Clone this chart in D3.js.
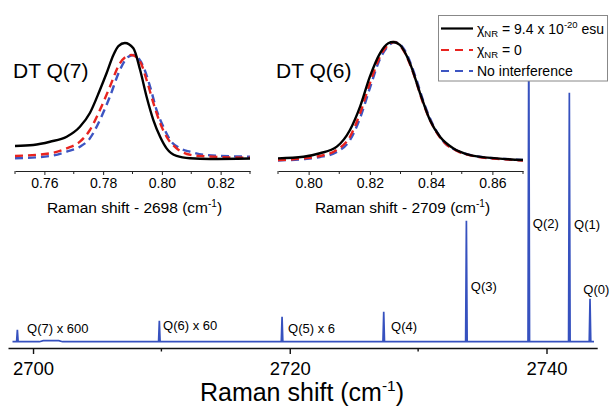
<!DOCTYPE html>
<html><head><meta charset="utf-8">
<script src="https://cdn.jsdelivr.net/npm/d3@7"></script>
<style>body{margin:0;background:#fff} svg{display:block;font-family:"Liberation Sans",Arial,sans-serif}</style>
</head><body><svg id="c" width="610" height="406"></svg>
<script>
// ---------- DATA ----------
const peakNames     = ["Q(0)","Q(1)","Q(2)","Q(3)","Q(4)","Q(5)","Q(6)","Q(7)"];
const peakLabels    = ["Q(0)","Q(1)","Q(2)","Q(3)","Q(4)","Q(5) x 6","Q(6) x 60","Q(7) x 600"];
const peakPositions = [2743.39, 2741.78, 2738.62, 2733.76, 2727.32, 2719.40, 2709.84, 2698.78];
const peakHeights   = [43, 249, 322, 121, 30, 25, 21, 12];
const mainMajorTicks = [2700, 2720, 2740];
const mainMinorTicks = [2710, 2730];
const spectrumStart = 2698.4, spectrumEnd = 2743.7;
const baselineBump = [[2700.5,0],[2700.8,1],[2702.0,1],[2702.3,0]];

// Inset Q(7): x = Raman shift - 2698 (cm-1), y normalised
const q7Black = [[0.750,0.112],[0.7562,0.121],[0.7619,0.149],[0.7676,0.192],[0.7721,0.278],[0.7755,0.397],[0.7789,0.595],[0.7812,0.741],[0.7835,0.897],[0.7852,0.974],[0.7874,1.0],[0.7903,0.954],[0.7926,0.767],[0.7948,0.537],[0.7971,0.336],[0.7994,0.192],[0.8016,0.092],[0.8050,0.026],[0.8096,0.006],[0.8164,0.0],[0.830,0.004]];
const q7Red = [[0.750,0.026],[0.7619,0.049],[0.7676,0.092],[0.7721,0.149],[0.7755,0.25],[0.7789,0.422],[0.7823,0.623],[0.7857,0.825],[0.7886,0.892],[0.7897,0.897],[0.7926,0.839],[0.7948,0.681],[0.7971,0.483],[0.7994,0.310],[0.8016,0.192],[0.8050,0.092],[0.8085,0.043],[0.8130,0.026],[0.830,0.011]];
const q7Blue = [[0.750,0.006],[0.7619,0.026],[0.7676,0.063],[0.7721,0.106],[0.7755,0.178],[0.7789,0.336],[0.7823,0.537],[0.7857,0.767],[0.7886,0.882],[0.7903,0.897],[0.7937,0.796],[0.7960,0.623],[0.7982,0.422],[0.8005,0.278],[0.8028,0.164],[0.8062,0.092],[0.8096,0.063],[0.8153,0.034],[0.830,0.020]];
const q7Ticks = [0.76, 0.78, 0.80, 0.82];
const q7Minor = [0.75, 0.77, 0.79, 0.81, 0.83];

// Inset Q(6): x = Raman shift - 2709 (cm-1)
const q6Black = [[0.7900,0.014],[0.7983,0.028],[0.8037,0.057],[0.8092,0.113],[0.8135,0.254],[0.8168,0.452],[0.8200,0.706],[0.8233,0.904],[0.8260,0.989],[0.8276,1.0],[0.8298,0.975],[0.8331,0.819],[0.8364,0.565],[0.8396,0.339],[0.8429,0.197],[0.8472,0.099],[0.8527,0.042],[0.8614,0.014],[0.8700,0.0]];
const q6Red = [[0.7900,0.0],[0.7983,0.013],[0.8037,0.034],[0.8092,0.085],[0.8135,0.197],[0.8168,0.396],[0.8200,0.650],[0.8233,0.875],[0.8260,0.975],[0.8279,1.0],[0.8309,0.932],[0.8342,0.735],[0.8374,0.481],[0.8407,0.282],[0.8440,0.155],[0.8483,0.079],[0.8549,0.028],[0.8636,0.006],[0.8700,-0.004]];
const q6Blue = [[0.7900,-0.004],[0.7983,0.008],[0.8037,0.025],[0.8092,0.068],[0.8135,0.169],[0.8168,0.356],[0.8200,0.610],[0.8233,0.856],[0.8260,0.966],[0.8282,1.0],[0.8315,0.924],[0.8347,0.720],[0.8380,0.458],[0.8413,0.263],[0.8445,0.144],[0.8488,0.076],[0.8553,0.030],[0.8641,0.008],[0.8700,0.0]];
const q6Ticks = [0.80, 0.82, 0.84, 0.86];
const q6Minor = [0.79, 0.81, 0.83, 0.85, 0.87];

// ---------- DRAW ----------
const svg = d3.select("#c");
const BLUE = "#3651bf", RED = "#e8231f", DBLUE = "#3d55c2";
const font = '"Liberation Sans",Arial,sans-serif';

// main axis
const x = d3.scaleLinear().domain([2698.05, 2743.95]).range([8, 597.2]);
const y = d3.scaleLinear().domain([0, 340]).range([341.7, 1.7]);

// spectrum path built from peaks
const pts = [[spectrumStart,0]];
baselineBump.forEach(p=>pts.push(p));
peakPositions.forEach((p,i)=>{ pts.push([p-0.06,0],[p,peakHeights[i]],[p+0.06,0]); });
pts.push([spectrumEnd,0]);
pts.sort((a,b)=>a[0]-b[0]);
svg.append("path").attr("d", d3.line().x(d=>x(d[0])).y(d=>y(d[1]))(pts))
  .attr("fill","none").attr("stroke",BLUE).attr("stroke-width",1.7).attr("stroke-linejoin","miter");

// main x axis
const gx = svg.append("g").attr("transform","translate(0,348)");
gx.call(d3.axisBottom(x).tickValues(mainMajorTicks).tickSize(6).tickSizeOuter(0).tickFormat(d3.format("d")));
gx.select(".domain").attr("stroke","#111").attr("stroke-width",1.6);
gx.selectAll(".tick line").attr("stroke","#111").attr("stroke-width",1.4);
gx.selectAll(".tick text").attr("font-family",font).attr("font-size",18.5).attr("fill","#000").attr("dy",null).attr("y",26.5);
gx.selectAll(".minor").data(mainMinorTicks).enter().append("line")
  .attr("x1",d=>x(d)).attr("x2",d=>x(d)).attr("y1",0).attr("y2",3.5).attr("stroke","#111").attr("stroke-width",1.4);

const mt = svg.append("text").attr("x",302).attr("y",400.5).attr("text-anchor","middle")
  .attr("font-size",25).attr("font-family",font);
mt.append("tspan").text("Raman shift (cm");
mt.append("tspan").text("-1").attr("font-size",15.5).attr("dy",-10);
mt.append("tspan").text(")").attr("dy",10);

// peak labels (layout offsets)
const labelDx = [-6.7, 4.7, 4, 4.4, 7.3, 6, 3.7, 9.7];
const labelY  = [294, 229, 227.5, 290.5, 331, 333, 330, 333];
svg.selectAll(".plabel").data(peakLabels).enter().append("text")
  .attr("x",(d,i)=>x(peakPositions[i])+labelDx[i]).attr("y",(d,i)=>labelY[i])
  .attr("font-size",13).attr("font-family",font).text(d=>d);

// insets
function inset(cfg){
  const xs = d3.scaleLinear().domain(cfg.domain).range(cfg.range);
  const ys = d3.scaleLinear().domain([0,1]).range(cfg.yr);
  const g = svg.append("g");
  const line = d3.line().x(d=>xs(d[0])).y(d=>ys(d[1])).curve(d3.curveMonotoneX);
  const series = [[cfg.blue,DBLUE,"8,5"],[cfg.red,RED,"8,5"],[cfg.black,"#000",null]];
  series.forEach(s=>{
    g.append("path").attr("d",line(s[0])).attr("fill","none").attr("stroke",s[1])
      .attr("stroke-width",2.4).attr("stroke-dasharray",s[2]);
  });
  const ax = g.append("g").attr("transform",`translate(0,${cfg.axisY})`);
  ax.call(d3.axisBottom(xs).tickValues(cfg.ticks).tickSize(4).tickSizeOuter(0).tickFormat(d3.format(".2f")));
  ax.select(".domain").attr("stroke","#222").attr("stroke-width",1.2);
  ax.selectAll(".tick line").attr("stroke","#222");
  ax.selectAll(".tick text").attr("font-family",font).attr("font-size",14).attr("fill","#000").attr("dy",null).attr("y",17);
  ax.selectAll(".mn").data(cfg.minor).enter().append("line")
    .attr("x1",d=>xs(d)).attr("x2",d=>xs(d)).attr("y1",0).attr("y2",3).attr("stroke","#222");
  const t = g.append("text").attr("x",(cfg.range[0]+cfg.range[1])/2+2).attr("y",cfg.axisY+42)
    .attr("text-anchor","middle").attr("font-size",15.5).attr("font-family",font);
  t.append("tspan").text(cfg.title);
  t.append("tspan").text("-1").attr("font-size",10).attr("dy",-6);
  t.append("tspan").text(")").attr("dy",6);
  g.append("text").attr("x",cfg.labelX).attr("y",78).attr("font-size",21).attr("font-family",font).text(cfg.label);
}
inset({domain:[0.75,0.83], range:[15,250], yr:[159,43], axisY:171, black:q7Black, red:q7Red, blue:q7Blue,
  ticks:q7Ticks, minor:q7Minor, title:"Raman shift - 2698 (cm", label:"DT Q(7)", labelX:13});
inset({domain:[0.79,0.87], range:[278,523], yr:[160,42], axisY:171, black:q6Black, red:q6Red, blue:q6Blue,
  ticks:q6Ticks, minor:q6Minor, title:"Raman shift - 2709 (cm", label:"DT Q(6)", labelX:276});

// legend
const lg = svg.append("g");
lg.append("rect").attr("x",438.5).attr("y",15.5).attr("width",169).attr("height",65.5)
  .attr("fill","#fff").attr("stroke","#888").attr("stroke-width",1);
const rows = [{c:"#000",d:null,y:28.5},{c:RED,d:"8,6",y:50},{c:DBLUE,d:"8,6",y:71}];
rows.forEach(r=>{
  lg.append("line").attr("x1",441).attr("x2",473).attr("y1",r.y).attr("y2",r.y)
    .attr("stroke",r.c).attr("stroke-width",2.2).attr("stroke-dasharray",r.d);
});
const t1 = lg.append("text").attr("x",477).attr("y",33.5).attr("font-size",14).attr("font-family",font);
t1.append("tspan").text("χ");
t1.append("tspan").text("NR").attr("font-size",9.5).attr("dy",3);
t1.append("tspan").text(" = 9.4 x 10").attr("dy",-3);
t1.append("tspan").text("-20").attr("font-size",9.5).attr("dy",-6);
t1.append("tspan").text(" esu").attr("dy",6);
const t2 = lg.append("text").attr("x",477).attr("y",55).attr("font-size",14).attr("font-family",font);
t2.append("tspan").text("χ");
t2.append("tspan").text("NR").attr("font-size",9.5).attr("dy",3);
t2.append("tspan").text(" = 0").attr("dy",-3);
lg.append("text").attr("x",477).attr("y",76).attr("font-size",14).attr("font-family",font).text("No interference");
</script></body></html>
